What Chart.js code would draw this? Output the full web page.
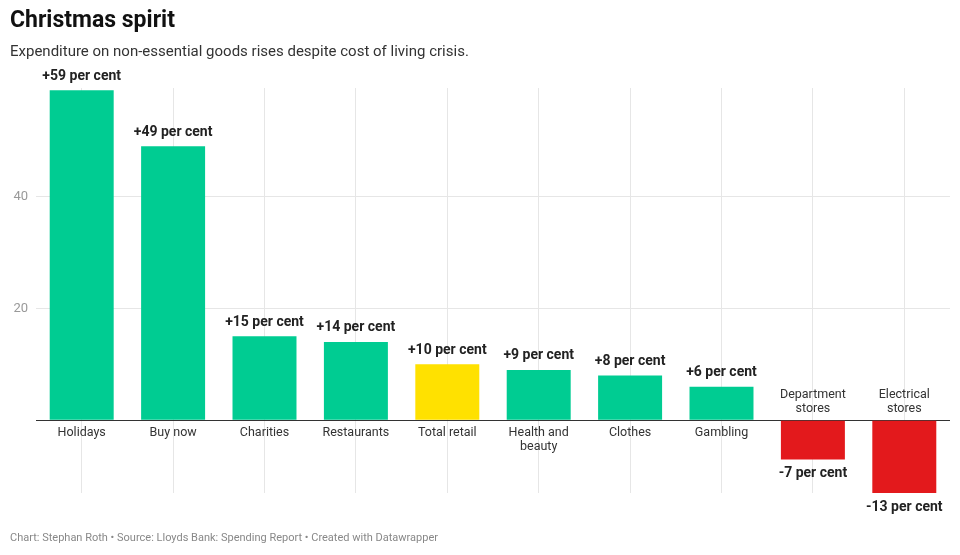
<!DOCTYPE html>
<html><head><meta charset="utf-8">
<script src="https://cdn.jsdelivr.net/npm/chart.js@4"></script>
<style>
body{margin:0;width:960px;height:555px;font-family:Roboto,"Noto Sans",sans-serif;position:relative;overflow:hidden;background:#fff}
#t{position:absolute;left:10px;top:6px;font-size:23px;font-weight:bold;color:#111}
#s{position:absolute;left:10px;top:42px;font-size:15px;color:#333}
#f{position:absolute;left:10px;top:531px;font-size:11px;color:#888}
canvas{position:absolute;left:0;top:0}
</style></head><body>
<canvas id="c" width="960" height="555"></canvas>
<div id="t">Christmas spirit</div>
<div id="s">Expenditure on non-essential goods rises despite cost of living crisis.</div>
<div id="f">Chart: Stephan Roth • Source: Lloyds Bank: Spending Report • Created with Datawrapper</div>
<script>
const categories = [["Holidays"], ["Buy now"], ["Charities"], ["Restaurants"], ["Total retail"], ["Health and", "beauty"], ["Clothes"], ["Gambling"], ["Department", "stores"], ["Electrical", "stores"]];
const values = [59, 49, 15, 14, 10, 9, 8, 6, -7, -13];
const colors = ["#00cc92", "#00cc92", "#00cc92", "#00cc92", "#ffe100", "#00cc92", "#00cc92", "#00cc92", "#e3191c", "#e3191c"];
const yTicks = [0, 20, 40];

const labelPlugin = {
	id: "labels",
	afterDatasetsDraw(chart) {
		const ctx = chart.ctx;
		const y0 = chart.scales.y.getPixelForValue(0);
		ctx.save();
		ctx.textAlign = "center";
		chart.getDatasetMeta(0).data.forEach((bar, i) => {
			const v = values[i];
			const lines = categories[i];
			ctx.fillStyle = "#333";
			ctx.font = "12.5px Roboto";
			if (v >= 0) {
				ctx.textBaseline = "top";
				lines.forEach((l, j) => ctx.fillText(l, bar.x, y0 + 6 + j * 14));
				ctx.font = "bold 14px Roboto";
				ctx.fillStyle = "#222";
				ctx.textBaseline = "bottom";
				ctx.fillText("+" + v + " per cent", bar.x, bar.y - 7);
			} else {
				ctx.textBaseline = "bottom";
				lines.forEach((l, j) => ctx.fillText(l, bar.x, y0 - 5 - (lines.length - 1 - j) * 14));
				ctx.font = "bold 14px Roboto";
				ctx.fillStyle = "#222";
				ctx.textBaseline = "top";
				ctx.fillText(v + " per cent", bar.x, bar.y + 7);
			}
		});
		ctx.restore();
	}
};

new Chart(document.getElementById("c").getContext("2d"), {
	type: "bar",
	data: {
		labels: categories.map(c => c.join(" ")),
		datasets: [{data: values, backgroundColor: colors, categoryPercentage: 1, barPercentage: 0.7}]
	},
	plugins: [labelPlugin],
	options: {
		responsive: false,
		animation: false,
		layout: {padding: {top: 88, right: 10, bottom: 62, left: 0}},
		plugins: {legend: {display: false}, tooltip: {enabled: false}},
		scales: {
			x: {
				ticks: {display: false},
				border: {display: false},
				grid: {offset: false, color: "#e6e6e6", drawTicks: false}
			},
			y: {
				min: -13,
				max: 59.4,
				afterBuildTicks: s => { s.ticks = yTicks.map(v => ({value: v})); },
				afterFit: s => { s.width = 36; },
				border: {display: false},
				grid: {color: c => c.tick && c.tick.value === 0 ? "#333" : "#e6e6e6", drawTicks: false},
				ticks: {color: "#999", font: {size: 13, family: "Roboto"}, padding: 8, callback: v => v === 0 ? "" : v}
			}
		}
	}
});
</script>
</body></html>
